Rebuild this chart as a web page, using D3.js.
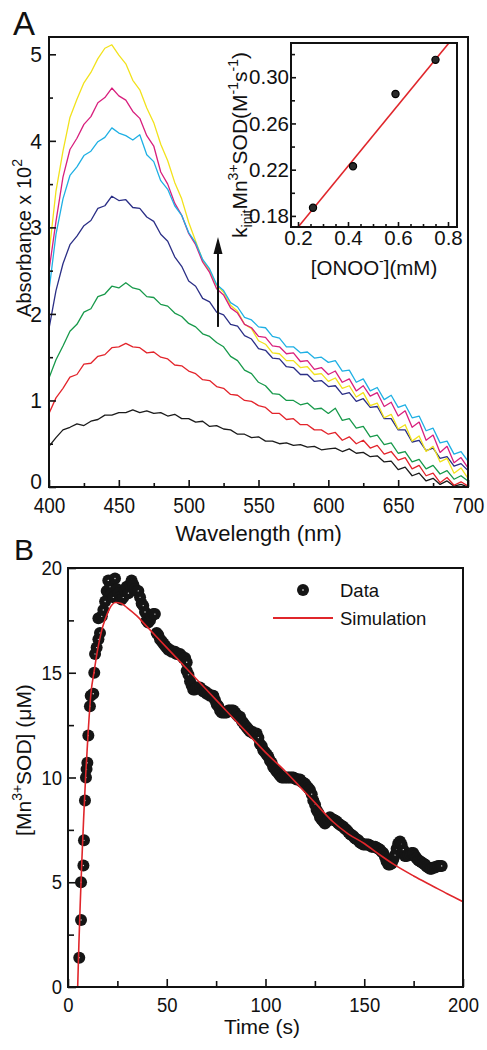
<!DOCTYPE html>
<html><head><meta charset="utf-8">
<script src="https://cdn.jsdelivr.net/npm/d3@7"></script>
<style>
body{margin:0;background:#fff;}
svg text{font-family:"Liberation Sans",Arial,sans-serif;fill:#111;}
</style></head><body>
<svg id="c" width="487" height="1050"></svg>
<script>
// ---------------- Panel A data ----------------
const wavelengths = d3.range(400, 701, 5);
const absBlack = [0.47,0.57,0.66,0.69,0.73,0.71,0.76,0.78,0.83,0.83,
 0.86,0.86,0.89,0.86,0.88,0.85,0.86,0.82,0.84,0.79,
 0.79,0.75,0.76,0.70,0.71,0.67,0.66,0.61,0.61,0.57,
 0.58,0.53,0.53,0.50,0.51,0.48,0.49,0.46,0.47,0.43,
 0.44,0.45,0.41,0.44,0.39,0.40,0.35,0.36,0.29,0.30,
 0.20,0.23,0.13,0.16,0.07,0.10,0.03,0.07,0.01,0.03,
 0.00];
const absRed = [0.85,1.03,1.14,1.27,1.30,1.42,1.43,1.51,1.53,1.61,
 1.62,1.66,1.62,1.61,1.55,1.56,1.50,1.48,1.41,1.40,
 1.34,1.31,1.24,1.23,1.16,1.14,1.07,1.06,1.00,0.99,
 0.94,0.92,0.85,0.85,0.78,0.79,0.72,0.72,0.66,0.66,
 0.61,0.63,0.54,0.58,0.50,0.54,0.45,0.48,0.38,0.41,
 0.31,0.34,0.21,0.25,0.13,0.16,0.05,0.11,0.02,0.06,
 0.01];
const absGreen = [1.26,1.47,1.63,1.80,1.88,2.02,2.06,2.20,2.23,2.32,
 2.30,2.36,2.30,2.28,2.20,2.19,2.11,2.09,2.01,1.97,
 1.89,1.85,1.77,1.74,1.67,1.62,1.51,1.46,1.35,1.31,
 1.21,1.17,1.08,1.07,1.00,1.00,0.95,0.97,0.90,0.91,
 0.85,0.91,0.77,0.79,0.68,0.70,0.58,0.60,0.49,0.51,
 0.39,0.41,0.29,0.32,0.21,0.25,0.15,0.19,0.09,0.13,
 0.07];
const absNavy = [1.83,2.27,2.58,2.80,2.90,3.02,3.08,3.22,3.25,3.36,
 3.31,3.32,3.23,3.22,3.12,3.07,2.92,2.84,2.66,2.55,
 2.38,2.32,2.18,2.14,2.02,1.99,1.88,1.86,1.75,1.71,
 1.60,1.58,1.49,1.48,1.39,1.38,1.30,1.30,1.22,1.23,
 1.16,1.17,1.07,1.09,0.99,1.02,0.92,0.93,0.79,0.79,
 0.66,0.66,0.52,0.54,0.42,0.45,0.33,0.35,0.24,0.27,
 0.19];
const absCyan = [2.27,2.92,3.33,3.60,3.70,3.83,3.88,3.99,4.04,4.15,
 4.09,4.06,4.01,4.07,3.84,3.76,3.54,3.44,3.25,3.14,
 2.94,2.82,2.63,2.52,2.34,2.27,2.13,2.08,1.96,1.93,
 1.85,1.84,1.74,1.72,1.62,1.62,1.55,1.56,1.49,1.50,
 1.44,1.46,1.34,1.35,1.21,1.25,1.11,1.15,1.01,1.06,
 0.92,0.95,0.80,0.82,0.65,0.68,0.51,0.53,0.38,0.41,
 0.30];
const absMagenta = [2.50,3.07,3.58,3.90,4.03,4.19,4.28,4.44,4.50,4.61,
 4.52,4.47,4.34,4.26,4.06,3.94,3.64,3.50,3.28,3.14,
 2.93,2.80,2.60,2.48,2.29,2.22,2.07,2.01,1.88,1.84,
 1.74,1.73,1.63,1.62,1.54,1.55,1.45,1.46,1.36,1.38,
 1.30,1.34,1.21,1.25,1.11,1.17,1.05,1.09,0.93,0.98,
 0.82,0.88,0.69,0.75,0.54,0.60,0.40,0.47,0.28,0.34,
 0.22];
const absYellow = [2.70,3.42,3.88,4.27,4.48,4.67,4.79,4.95,5.07,5.11,
 4.99,4.89,4.70,4.59,4.38,4.21,3.96,3.77,3.52,3.33,
 3.06,2.84,2.62,2.50,2.33,2.25,2.10,2.03,1.88,1.83,
 1.69,1.65,1.55,1.54,1.46,1.46,1.38,1.39,1.30,1.31,
 1.22,1.26,1.14,1.17,1.04,1.09,0.94,0.97,0.80,0.84,
 0.67,0.72,0.53,0.59,0.41,0.47,0.29,0.33,0.16,0.22,
 0.10];
const spectraColors = ["#1a1a1a","#17994a","#e3242b","#2b2f86","#f2e21c","#d81f7d","#1fb0e4"];
const xTicksA = [400,450,500,550,600,650,700];
const xMinorA = [425,475,525,575,625,675];
const yTicksA = [0,1,2,3,4,5];
const yMinorA = [0.5,1.5,2.5,3.5,4.5];
const arrowSpec = {wl:521, from:1.85, to:2.89};

// Inset data
const onooConc = [0.26, 0.42, 0.59, 0.75];
const kInit = [0.187, 0.223, 0.2855, 0.315];
const fitX = [0.20, 0.82];
const fitY = [0.1702, 0.3339];
const xTicksI = [0.2, 0.4, 0.6, 0.8];
const xMinorI = [0.25,0.3,0.35,0.45,0.5,0.55,0.65,0.7,0.75];
const yTicksI = [0.18, 0.22, 0.26, 0.30];
const yMinorI = [0.20, 0.24, 0.28, 0.32];

// ---------------- Panel B data ----------------
const mnData = [[5.7,1.4],[6.6,3.2],[6.6,5.0],[7.8,5.8],[8.1,7.0],[8.6,8.9],[9.1,10.0],[9.4,10.4],[9.8,10.7],
[10.3,12.0],[11.1,13.4],[11.5,13.9],[12.8,14.0],[13.3,15.0],[13.7,15.9],[14.5,16.2],[15.4,16.6],[16.2,16.9],
[15.4,17.6],[17.1,17.7],[17.9,18.0],[18.8,18.4],[19.6,18.9],[20.4,19.4],[21.3,19.1],[22.1,18.8],[23.0,18.6],
[23.8,19.5],[24.7,19.0],[25.5,18.8],[26.3,18.6],[27.1,18.5],[28.0,18.6],[28.8,18.9],[29.7,19.1],[30.6,18.8],
[31.4,19.2],[32.2,19.4],[33.1,19.2],[33.9,19.0],[34.8,18.9],[35.6,18.9],[36.5,18.6],[37.3,18.3],[38.1,18.2],
[39.0,17.9],[39.8,17.5],[40.6,17.4],[41.5,17.5],[42.3,17.7],[43.2,17.8],[44.0,17.8],[44.9,16.9],[45.7,16.8],
[46.6,16.6],[47.5,16.5],[48.3,16.4],[49.1,16.3],[49.9,16.2],[50.8,16.1],[51.6,16.1],[52.5,16.0],[53.3,16.0],
[54.2,16.0],[55.0,15.9],[55.9,15.9],[56.7,15.9],[57.6,15.8],[58.4,15.7],[59.3,15.7],[60.1,15.5],[60.1,15.1],
[61.0,14.9],[61.8,14.6],[62.6,14.4],[63.4,14.2],[64.3,14.2],[65.1,14.3],[66.0,14.3],[66.8,14.3],[67.7,14.2],
[68.5,14.1],[69.4,14.1],[70.2,14.0],[71.0,14.0],[71.9,13.9],[72.7,13.9],[73.6,13.9],[74.4,13.7],[75.3,13.5],
[76.1,13.4],[77.0,13.2],[77.8,13.1],[78.7,13.1],[79.5,13.1],[80.3,13.1],[81.2,13.2],[82.0,13.2],[82.9,13.2],
[83.7,13.2],[84.6,13.1],[85.4,13.0],[86.3,12.9],[87.1,12.9],[88.0,12.7],[88.8,12.6],[89.6,12.5],[90.5,12.4],
[91.3,12.3],[92.2,12.2],[93.0,12.2],[93.9,12.1],[94.7,12.1],[95.5,12.1],[96.4,11.9],[97.2,11.6],[98.1,11.5],
[98.9,11.3],[99.8,11.2],[100.6,11.1],[101.4,11.0],[102.3,10.8],[103.1,10.7],[103.9,10.5],[104.8,10.4],
[105.6,10.3],[106.5,10.2],[107.3,10.1],[108.2,10.0],[109.0,10.0],[109.9,10.0],[110.7,10.0],[111.6,10.0],
[112.4,10.0],[113.3,10.0],[114.1,10.0],[115.0,9.95],[115.8,9.9],[116.7,9.9],[117.5,9.9],[118.3,9.8],
[119.2,9.75],[120.0,9.7],[120.8,9.6],[121.7,9.5],[122.5,9.4],[123.4,9.2],[124.2,8.9],[125.1,8.7],[125.9,8.45],
[126.8,8.3],[127.6,8.1],[128.4,8.0],[129.3,7.9],[130.1,7.8],[131.0,7.9],[131.8,8.0],[132.6,8.1],[133.5,8.0],
[134.3,8.0],[135.2,7.95],[136.0,7.9],[136.9,7.8],[137.7,7.75],[138.5,7.7],[139.4,7.65],[140.2,7.55],[141.1,7.5],
[141.9,7.4],[142.8,7.3],[143.6,7.25],[144.5,7.2],[145.3,7.1],[146.1,7.05],[147.0,7.0],[147.8,6.9],[148.7,6.85],
[149.5,6.8],[150.4,6.8],[151.2,6.8],[152.1,6.8],[152.9,6.75],[153.8,6.7],[154.6,6.7],[155.5,6.7],[156.3,6.65],
[157.2,6.6],[158.0,6.55],[158.8,6.45],[159.6,6.4],[160.5,6.2],[161.3,6.0],[162.2,5.85],[163.0,5.85],[163.9,5.9],
[164.7,6.1],[165.6,6.3],[166.4,6.6],[167.2,6.85],[168.1,6.95],[168.9,6.8],[169.8,6.55],[170.6,6.25],[171.5,6.25],
[172.3,6.3],[173.2,6.35],[174.0,6.4],[174.8,6.4],[175.7,6.25],[176.5,6.15],[177.4,6.05],[178.2,6.0],[179.0,5.95],
[179.9,5.9],[180.7,5.85],[181.6,5.75],[182.4,5.7],[183.3,5.65],[184.1,5.65],[185.0,5.7],[185.8,5.7],[186.7,5.75],
[187.5,5.77],[188.4,5.78],[189.2,5.78]];
const simCurve = [[4.9,0],[5.5,2],[6.2,4],[7,6],[7.9,8],[8.9,10],[10.1,12],[11.6,14],[13.3,15.1],[15,16.1],
[17,17],[19,17.6],[21,18.05],[24,18.35],[27,18.3],[30,18.1],[35,17.7],[40,17.2],[50,16.2],[60,15.2],[70,14.2],
[80,13.2],[90,12.2],[100,11.2],[110,10.3],[117.5,9.55],[125,8.8],[134,7.9],[142,7.3],[150,6.85],[158,6.3],
[165,5.85],[175,5.3],[185,4.8],[192,4.45],[200,4.07]];
const xTicksB = [0,50,100,150,200];
const xMinorB = [25,75,125,175];
const yTicksB = [0,5,10,15,20];
const yMinorB = [2.5,7.5,12.5,17.5];
const legendLabels = ["Data","Simulation"];

// ---------------- drawing ----------------
const svg = d3.select("#c");
svg.append("rect").attr("width",487).attr("height",1050).attr("fill","#fff");
const defs = svg.append("defs");
const INK = "#111";

function styleAxis(sel, fs, sy){
  sel.select(".domain").remove();
  sel.selectAll(".tick line").attr("stroke",INK).attr("stroke-width",1.6);
  sel.selectAll(".tick text").attr("font-size",fs).attr("fill",INK)
     .style("font-family",'"Liberation Sans",Arial,sans-serif');
  if(sy){
    sel.selectAll(".tick text").each(function(){
      const t=d3.select(this);
      const y=+(t.attr("y")||0);
      t.attr("y", y/sy).attr("transform",`scale(1,${sy})`);
    });
  }
}
function addAxis(g, axis, fs, sy){ const s=g.append("g").call(axis); styleAxis(s,fs,sy); return s; }

// Panel A
const A = {l:49,r:468,t:37,b:487};
const xA = d3.scaleLinear().domain([400,700]).range([A.l,A.r]);
const yA = d3.scaleLinear().domain([0,5.2]).range([A.b,A.t]);
defs.append("clipPath").attr("id","clipA").append("rect")
  .attr("x",A.l).attr("y",A.t).attr("width",A.r-A.l).attr("height",A.b-A.t);
const lineA = d3.line().x((d,i)=>xA(wavelengths[i])).y(d=>yA(d));
const spectra = [absBlack, absGreen, absRed, absNavy, absYellow, absMagenta, absCyan];
svg.append("g").attr("clip-path","url(#clipA)").selectAll("path").data(spectra).join("path")
  .attr("d",lineA).attr("fill","none").attr("stroke",(d,i)=>spectraColors[i])
  .attr("stroke-width",1.3).attr("stroke-linejoin","round");

const gAx = svg.append("g").attr("transform",`translate(0,${A.b})`);
addAxis(gAx, d3.axisBottom(xA).tickValues(xTicksA).tickSize(-7).tickPadding(10).tickFormat(d3.format("d")), 19, 1.15);
addAxis(gAx, d3.axisBottom(xA).tickValues(xMinorA).tickSize(-4).tickFormat(""), 19);
const gAy = svg.append("g").attr("transform",`translate(${A.l},0)`);
const yAxA = addAxis(gAy, d3.axisLeft(yA).tickValues(yTicksA).tickSize(-7).tickPadding(7).tickFormat(d3.format("d")), 21, 1.08);
yAxA.selectAll(".tick text").filter(d=>d===0).attr("dy","0.05em");
addAxis(gAy, d3.axisLeft(yA).tickValues(yMinorA).tickSize(-4).tickFormat(""), 21);
svg.append("rect").attr("x",A.l).attr("y",A.t).attr("width",A.r-A.l).attr("height",A.b-A.t)
  .attr("fill","none").attr("stroke",INK).attr("stroke-width",2);

// arrow
const ax = xA(arrowSpec.wl);
svg.append("line").attr("x1",ax).attr("x2",ax).attr("y1",yA(arrowSpec.from)).attr("y2",yA(arrowSpec.to)+14)
  .attr("stroke",INK).attr("stroke-width",2);
svg.append("path").attr("d",`M${ax},${yA(arrowSpec.to)} L${ax-4.5},${yA(arrowSpec.to)+17} L${ax+4.5},${yA(arrowSpec.to)+17} Z`)
  .attr("fill",INK);

// titles A
svg.append("text").attr("x",13).attr("y",35).attr("font-size",33).text("A");
svg.append("text").attr("x",(A.l+A.r)/2).attr("y",541).attr("text-anchor","middle").attr("font-size",22).text("Wavelength (nm)");
const tA = svg.append("text").attr("transform","translate(31,238) rotate(-90)").attr("text-anchor","middle").attr("font-size",20);
tA.append("tspan").text("Absorbance x 10");
tA.append("tspan").attr("font-size",14).attr("dy",-9).text("2");

// Inset
const I = {l:291,r:457,t:43,b:227};
const xI = d3.scaleLinear().domain([0.172,0.836]).range([I.l,I.r]);
const yI = d3.scaleLinear().domain([0.1704,0.3296]).range([I.b,I.t]);
svg.append("rect").attr("x",I.l).attr("y",I.t).attr("width",I.r-I.l).attr("height",I.b-I.t).attr("fill","#fff");
defs.append("clipPath").attr("id","clipI").append("rect")
  .attr("x",I.l).attr("y",I.t).attr("width",I.r-I.l).attr("height",I.b-I.t);
svg.append("path").attr("clip-path","url(#clipI)")
  .attr("d", d3.line().x((d,i)=>xI(fitX[i])).y(d=>yI(d))(fitY))
  .attr("stroke","#e0262b").attr("stroke-width",1.6).attr("fill","none");
svg.append("g").selectAll("circle").data(kInit).join("circle")
  .attr("cx",(d,i)=>xI(onooConc[i])).attr("cy",d=>yI(d)).attr("r",3.6)
  .attr("fill","#2a2a2a").attr("stroke","#000").attr("stroke-width",1.2);
const gIx = svg.append("g").attr("transform",`translate(0,${I.b})`);
addAxis(gIx, d3.axisBottom(xI).tickValues(xTicksI).tickSize(-5).tickPadding(3).tickFormat(d3.format(".1f")), 20.5);
addAxis(gIx, d3.axisBottom(xI).tickValues(xMinorI).tickSize(-3).tickFormat(""), 20);
const gIy = svg.append("g").attr("transform",`translate(${I.l},0)`);
addAxis(gIy, d3.axisLeft(yI).tickValues(yTicksI).tickSize(-5).tickPadding(2).tickFormat(d3.format(".2f")), 20.5);
addAxis(gIy, d3.axisLeft(yI).tickValues(yMinorI).tickSize(-4).tickFormat(""), 20);
svg.append("rect").attr("x",I.l).attr("y",I.t).attr("width",I.r-I.l).attr("height",I.b-I.t)
  .attr("fill","none").attr("stroke",INK).attr("stroke-width",2);
const tIx = svg.append("text").attr("x",(I.l+I.r)/2).attr("y",275).attr("text-anchor","middle").attr("font-size",20.5);
tIx.append("tspan").text("[ONOO");
tIx.append("tspan").attr("font-size",14).attr("dy",-9).text("-");
tIx.append("tspan").attr("dy",9).text("](mM)");
const tIy = svg.append("text").attr("transform","translate(247,145) rotate(-90)").attr("text-anchor","middle").attr("font-size",21);
tIy.append("tspan").text("k");
tIy.append("tspan").attr("font-size",14).attr("dy",5).text("init");
tIy.append("tspan").attr("dy",-5).text("Mn");
tIy.append("tspan").attr("font-size",14).attr("dy",-9).text("3+");
tIy.append("tspan").attr("dy",9).text("SOD(M");
tIy.append("tspan").attr("font-size",14).attr("dy",-9).text("-1");
tIy.append("tspan").attr("dy",9).text("s");
tIy.append("tspan").attr("font-size",14).attr("dy",-9).text("-1");
tIy.append("tspan").attr("dy",9).text(")");

// Panel B
const B = {l:68,r:463,t:568,b:987};
const xB = d3.scaleLinear().domain([0,200]).range([B.l,B.r]);
const yB = d3.scaleLinear().domain([0,20]).range([B.b,B.t]);
defs.append("clipPath").attr("id","clipB").append("rect")
  .attr("x",B.l).attr("y",B.t).attr("width",B.r-B.l).attr("height",B.b-B.t);
const pts = svg.append("g").selectAll("g").data(mnData).join("g")
  .attr("transform",d=>`translate(${xB(d[0])},${yB(d[1])})`);
pts.append("circle").attr("r",6).attr("fill","#151515");
pts.append("circle").attr("r",0.7).attr("fill","#fff").attr("opacity",0.85);
const simLine = d3.line().curve(d3.curveMonotoneX).x(d=>xB(d[0])).y(d=>yB(d[1]));
svg.append("path").attr("clip-path","url(#clipB)")
  .attr("d", simLine(simCurve))
  .attr("stroke","#e0262b").attr("stroke-width",1.6).attr("fill","none");

const gBx = svg.append("g").attr("transform",`translate(0,${B.b})`);
addAxis(gBx, d3.axisBottom(xB).tickValues(xTicksB).tickSize(-8).tickPadding(10).tickFormat(d3.format("d")), 18.5, 1.12);
addAxis(gBx, d3.axisBottom(xB).tickValues(xMinorB).tickSize(-6).tickFormat(""), 18);
const gBy = svg.append("g").attr("transform",`translate(${B.l},0)`);
addAxis(gBy, d3.axisLeft(yB).tickValues(yTicksB).tickSize(-8).tickPadding(6).tickFormat(d3.format("d")), 18.5, 1.1);
addAxis(gBy, d3.axisLeft(yB).tickValues(yMinorB).tickSize(-6).tickFormat(""), 18);
svg.append("rect").attr("x",B.l).attr("y",B.t).attr("width",B.r-B.l).attr("height",B.b-B.t)
  .attr("fill","none").attr("stroke",INK).attr("stroke-width",2);

// legend
const lg = svg.append("g");
lg.append("circle").attr("cx",303).attr("cy",590).attr("r",6).attr("fill","#151515");
lg.append("circle").attr("cx",303).attr("cy",590).attr("r",0.8).attr("fill","#fff");
lg.append("text").attr("x",340).attr("y",597).attr("font-size",18.5).text(legendLabels[0]);
lg.append("line").attr("x1",273).attr("x2",333).attr("y1",618).attr("y2",618).attr("stroke","#e0262b").attr("stroke-width",1.8);
lg.append("text").attr("x",340).attr("y",625).attr("font-size",18.5).text(legendLabels[1]);

svg.append("text").attr("x",14).attr("y",560).attr("font-size",30).text("B");
svg.append("text").attr("x",262).attr("y",1034).attr("text-anchor","middle").attr("font-size",21).text("Time (s)");
const tB = svg.append("text").attr("transform","translate(31,760) rotate(-90)").attr("text-anchor","middle").attr("font-size",21);
tB.append("tspan").text("[Mn");
tB.append("tspan").attr("font-size",14).attr("dy",-9).text("3+");
tB.append("tspan").attr("dy",9).text("SOD] (\u03BCM)");
</script>
</body></html>
